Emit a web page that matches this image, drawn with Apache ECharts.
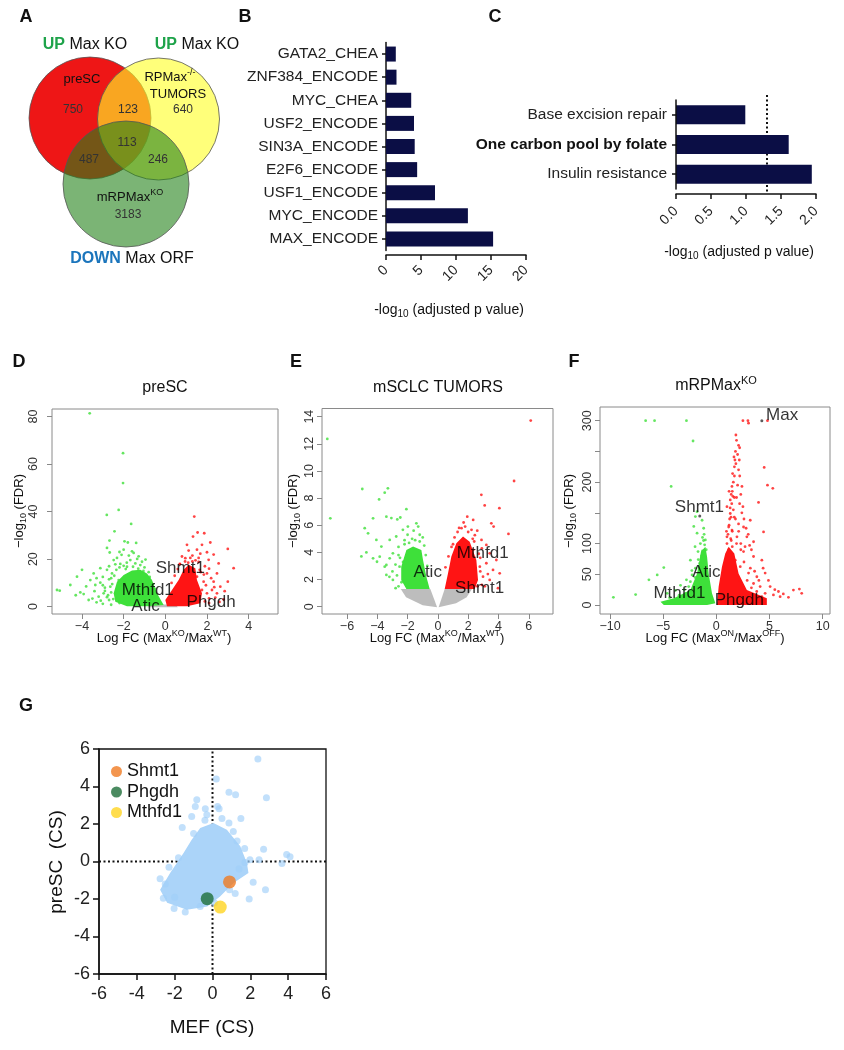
<!DOCTYPE html>
<html><head><meta charset="utf-8">
<script src="https://cdn.jsdelivr.net/npm/echarts@6/dist/echarts.min.js"></script>
<style>html,body{margin:0;padding:0;background:#fff}#c{width:844px;height:1050px}</style>
</head><body><div id="c"></div>
<script>
// ================= DATA =================
// Panel A – Venn diagram counts
const vennRegions = ['preSC only', 'tumors only', 'mRPMaxKO only', 'preSC∩tumors', 'preSC∩mRPMaxKO', 'tumors∩mRPMaxKO', 'all three'];
const vennCounts = [750, 640, 3183, 123, 487, 246, 113];

// Panel B – enrichment (ChEA / ENCODE)
const bCategories = ['GATA2_CHEA', 'ZNF384_ENCODE', 'MYC_CHEA', 'USF2_ENCODE', 'SIN3A_ENCODE', 'E2F6_ENCODE', 'USF1_ENCODE', 'MYC_ENCODE', 'MAX_ENCODE'];
const bValues = [1.4, 1.5, 3.6, 4.0, 4.1, 4.45, 7.0, 11.7, 15.3];
const bTicks = [0, 5, 10, 15, 20];

// Panel C – KEGG pathways
const cCategories = ['Base excision repair', 'One carbon pool by folate', 'Insulin resistance'];
const cValues = [0.99, 1.61, 1.94];
const cThreshold = [1.30];

// Panel D – preSC volcano
const dXTicks = [-4, -2, 0, 2, 4];
const dYTicks = [0, 20, 40, 60, 80];
const dGreenCore = [[-0.08,0.7],[-0.4,5.6],[-0.64,11.2],[-0.88,14],[-1.2,15.5],[-1.6,15.2],[-2.0,13.3],[-2.32,10.5],[-2.48,5.6],[-2.4,2.1],[-1.84,0.2],[-0.88,0.2]];
const dRedCore = [[0.08,0.2],[0.0,2.8],[0.32,7],[0.64,11.2],[0.88,15.5],[1.12,17.6],[1.44,16.2],[1.52,11.2],[1.76,5.6],[1.68,1.4],[1.04,0.2]];
const dGrayCore = [[-0.9,-0.3],[0.6,-0.3],[0.5,0.9],[-0.6,0.9]];
const dGreenPts = [[-3.63,81.4],[-2.03,64.6],[-2.03,52],[-2.24,40.7],[-2.81,38.6],[-1.64,34.8],[-2.44,31.7],[-2.68,27.8],[-1.96,27.5],[-1.8,27],[-1.4,26.8],[-2.8,24.7],[-2.0,24],[-1.6,23.3],[-1.52,22.6],[-2.67,22.8],[-1.28,21.2],[-2.32,20.5],[-4.0,15.5],[-4.24,12.6],[-4.56,9.1],[-5.2,7.0],[-5.07,6.7],[-4.08,6.0],[-3.44,14.0],[-3.6,11.2],[-3.36,9.1],[-3.12,10.1],[-2.96,5.6],[-3.2,4.2],[-2.8,4.0],[-2.56,14.0],[-2.48,19.6],[-2.16,18],[-3.12,16.2],[-2.8,15.5],[-2.64,8.4],[-2.4,5.6],[-2.24,11.2],[-1.84,16.8],[-1.68,19.6],[-1.44,18.2],[-1.2,17.5],[-1.12,18.9],[-3.68,2.8],[-3.92,5.3],[-2.6,12],[-2.9,8],[-3.0,12.5],[-2.7,17],[-1.9,15.8],[-1.0,16.5],[-0.8,14.5],[-2.5,3.2],[-3.4,6.5],[-3.8,8.5],[-4.3,4.8],[-3.1,2.5],[-2.2,1.5],
  [-3.0,1.2],[-2.7,2.8],[-2.9,6.6],[-2.6,6.0],[-2.55,9.5],[-2.7,11.5],[-2.45,13],[-2.35,15.5],[-2.2,16.5],[-2.0,17.2],[-1.85,18.5],[-1.55,16.8],[-1.3,16],[-1.05,15],[-0.75,12.5],[-0.6,9.5],[-0.5,7.5],[-0.45,4],[-2.6,0.8],[-2.75,4.8],[-3.3,1.8],[-3.5,3.4],[-1.75,21.5],[-2.1,21.8],[-1.35,20.1],[-0.95,19.8],[-2.4,17.8],[-3.3,12],[-3.0,9],[-2.2,23]];
const dRedPts = [[1.39,37.9],[1.55,31.2],[1.87,30.9],[1.33,29.5],[2.16,27],[1.04,26],[1.76,26],[3.0,24.3],[1.52,24],[1.12,23.6],[2.0,22.9],[1.68,22.3],[2.32,21.9],[0.8,21.1],[0.96,20.4],[3.28,16.2],[2.08,19.7],[2.56,18.2],[2.0,14.0],[2.48,14.0],[2.32,10.5],[3.0,10.5],[1.76,7],[2.0,5.6],[2.48,5.6],[2.24,7],[2.64,8.4],[1.52,12.6],[1.84,10.5],[1.3,19],[0.7,18],[1.7,14.5],[2.1,3.5],[1.9,2.2],[2.8,3.0],[1.6,18.8],[1.2,20.5],
  [0.3,10],[0.45,13],[0.6,15.8],[0.7,17.8],[0.95,19],[1.3,21.5],[1.6,20.5],[1.9,17],[2.1,16],[1.85,13.5],[2.2,12],[1.95,9],[2.35,8.2],[2.1,1.5],[2.6,2],[2.4,3.8],[1.65,15.5],[1.45,19.5],[1.1,18.5],[2.85,6.5]];
const dLabels = [['Shmt1',0.72,16.3],['Mthfd1',-0.84,6.7],['Atic',-0.95,0.2],['Phgdh',2.2,1.9]];

// Panel E – mSCLC tumors volcano
const eXTicks = [-6, -4, -2, 0, 2, 4, 6];
const eYTicks = [0, 2, 4, 6, 8, 10, 12, 14];
const eGrayLeft = [[-0.05,-0.05],[-1.0,0.1],[-2.1,0.7],[-2.45,1.3],[-0.5,1.3]];
const eGrayRight = [[0.05,-0.05],[1.2,0.25],[1.9,0.7],[2.25,1.3],[0.45,1.3]];
const eGreenCore = [[-0.54,1.3],[-2.08,1.3],[-2.42,1.97],[-2.42,2.95],[-2.08,4.18],[-1.64,4.43],[-1.09,4.18],[-0.98,3.44],[-0.76,2.21]];
const eRedCore = [[0.45,1.3],[0.67,2.46],[0.89,3.69],[1.22,4.67],[1.66,5.17],[2.1,4.79],[2.54,3.44],[2.65,1.97],[2.43,1.3]];
const eGreenPts = [[-7.3,12.36],[-7.1,6.51],[-4.99,8.67],[-3.3,8.72],[-3.51,8.4],[-3.88,7.9],[-2.08,7.18],[-4.28,6.51],[-3.4,6.63],[-3.07,6.53],[-2.68,6.43],[-2.48,6.57],[-1.42,6.14],[-1.3,5.9],[-4.83,5.78],[-4.61,5.4],[-5.05,3.7],[-4.72,4.0],[-4.28,3.56],[-4.02,3.31],[-3.84,3.68],[-3.51,2.95],[-3.18,3.56],[-3.4,2.34],[-2.97,1.97],[-2.79,1.36],[-2.53,2.95],[-3.73,4.43],[-3.18,4.92],[-2.75,5.17],[-2.31,5.66],[-1.98,5.9],[-2.97,3.93],[-3.4,3.07],[-4.06,4.92],[-2.6,4.4],[-2.2,4.9],[-1.7,5.0],[-2.7,2.3],[-2.5,3.6],[-1.2,4.8],
  [-2.6,1.5],[-2.4,1.8],[-2.3,3.3],[-2.6,3.8],[-2.2,4.6],[-1.9,4.7],[-1.5,4.9],[-1.2,5.3],[-0.9,4.5],[-0.8,3.8],[-0.7,3.0],[-3.0,2.6],[-3.2,2.2],[-2.8,3.1],[-1.6,5.6],[-2.0,5.3],[-1.0,5.1]];
const eRedPts = [[6.13,13.71],[5.03,9.26],[2.87,8.24],[3.09,7.46],[4.06,7.26],[3.53,6.14],[3.68,5.9],[4.66,5.36],[1.94,6.63],[2.33,6.39],[1.56,5.78],[2.22,5.66],[2.44,5.27],[2.88,4.92],[3.2,4.55],[3.42,3.93],[3.86,3.44],[3.64,2.71],[4.08,2.46],[3.42,1.97],[2.98,2.21],[3.97,1.36],[2.77,2.95],[2.33,4.18],[2.8,3.6],[3.1,1.5],[2.9,4.3],[1.3,5.5],[1.0,4.6],[2.6,5.6],
  [0.5,2.9],[0.7,3.7],[0.9,4.4],[1.1,5.1],[1.4,5.8],[1.8,5.9],[2.0,5.5],[2.4,4.8],[2.7,3.9],[2.8,2.6],[2.9,1.6],[3.2,3.2],[1.7,6.2],[2.3,5.0],[3.3,2.4],[2.6,1.5]];
const eLabels = [['Mthfd1',2.96,3.96],['Atic',-0.67,2.56],['Shmt1',2.76,1.38]];

// Panel F – mRPMaxKO volcano
const fXTicks = [-10, -5, 0, 5, 10];
const fYTicks = [0, 50, 100, 150, 200, 250, 300];
const fYLabels = [0, 50, 100, 200, 300];
const fGreenCore = [[-0.09,2.7],[-0.41,19],[-0.72,51.5],[-0.87,78.7],[-1.03,95],[-1.44,87],[-1.81,51.5],[-2.44,24.4],[-4.0,11],[-5.25,5.4],[-4.94,0],[-0.87,0]];
const fRedCore = [[0.06,0],[0.22,30],[0.53,62.5],[0.84,84],[1.16,95],[1.69,84],[2.09,51.5],[2.87,24.4],[4.75,11],[4.75,0]];
const fGreenPts = [[-6.65,300],[-5.81,300],[-2.81,300],[-2.19,267],[-4.25,193],[-1.97,144],[-2.12,128],[-1.81,117],[-1.34,138],[-1.19,125],[-1.03,106],[-2.44,73],[-1.97,60],[-2.28,49],[-4.94,61],[-5.56,49],[-6.34,41],[-7.59,17],[-9.68,12.5],[-3.84,24],[-3.37,32],[-2.81,41],[-1.72,87],[-1.56,68],[-2.44,38],[-2.9,19],[-4.62,19],[-1.81,152],[-1.3,110],[-1.5,100],[-2.0,95],
  [-1.1,98],[-1.2,105],[-1.3,88],[-1.4,80],[-1.25,70],[-1.6,60],[-2.0,45],[-1.9,30],[-2.6,30],[-3.0,25],[-3.5,16],[-4.4,12],[-1.15,115],[-0.95,90],[-1.7,74],[-2.3,56]];
const fRedPts = [[2.5,300],[2.97,300],[3.03,296],[4.81,300],[1.84,276.7],[2.09,260],[2.19,256],[1.66,241],[1.75,236],[1.84,230],[2.16,236],[2.09,220],[1.53,214],[4.5,224],[4.81,195],[5.31,190],[3.97,167],[1.47,193],[2.41,193],[1.56,177],[1.69,175],[2.19,165],[1.31,149],[1.69,143],[2.09,132],[2.56,127],[3.19,138],[1.47,122],[1.94,111],[2.87,111],[3.5,103],[4.44,119],[3.13,97],[2.56,87],[3.5,79],[4.28,73],[4.59,52],[3.81,46],[3.03,52],[3.5,35],[4.12,30],[5.06,30],[5.84,22],[5.37,16.5],[7.25,24.4],[7.81,26],[8.03,19],[6.78,12.5],[6.0,13.6],[4.28,13.6],[4.59,19],[3.03,19],[2.25,62.5],[1.78,73],[1.0,111],[1.16,127],[1.38,143],[1.0,160],[1.31,171],[1.9,100],[2.3,90],[1.4,105],[2.6,70],[2.2,40],[1.5,120],[2.4,150],[1.2,185],
  [1.0,100],[1.1,115],[1.2,130],[1.3,158],[1.45,165],[1.5,185],[1.6,200],[1.7,210],[1.8,250],[1.9,268],[2.0,245],[2.2,210],[2.3,180],[2.5,160],[2.6,140],[2.8,125],[3.0,115],[3.3,90],[2.1,120],[1.8,140],[1.6,155],[1.4,180],[1.25,140],[1.9,175],[2.0,195],[1.7,225],[2.3,100],[2.7,95],[3.2,60],[3.6,55],[4.0,40],[2.9,40],[3.3,28],[3.8,22],[5.5,25],[6.3,18],[4.9,40],[4.4,60],[1.15,90],[1.5,95],[1.35,108],[0.95,120]];
const fGenePts = [[4.28,300],[-1.56,145]];
const fLabels = [['Max',6.19,309],['Shmt1',-1.59,159.5],['Atic',-0.94,53.7],['Mthfd1',-3.47,19.5],['Phgdh',2.16,8.1]];

// Panel G – CRISPR scores
const gRefX = [0];
const gRefY = [0];
const gCore = [[-0.65,1.79],[0.05,2.05],[0.76,1.7],[1.47,0.81],[1.82,-0.08],[1.9,-0.61],[1.11,-1.15],[0.4,-1.86],[-0.28,-2.4],[-1.35,-2.57],[-2.4,-2.2],[-2.77,-1.5],[-2.24,-0.61],[-1.53,0.45],[-1.1,1.16]];
const gCloudPts = [[2.4,5.47],[0.2,4.4],[0.87,3.7],[1.22,3.56],[2.85,3.4],[-0.83,3.3],[-0.91,2.94],[-0.38,2.81],[0.27,2.94],[0.35,2.81],[-1.1,2.4],[-0.3,2.5],[1.5,2.3],[-1.6,1.82],[0.87,2.05],[2.7,0.66],[2.46,0.1],[1.98,0.1],[3.92,0.37],[4.1,0.26],[3.67,-0.1],[2.8,-1.5],[2.15,-1.1],[1.94,-2.0],[1.2,-1.7],[-2.77,-0.92],[-2.6,-1.96],[-2.03,-2.5],[-1.44,-2.69],[-0.65,-2.4],[1.72,-0.05],[1.4,-0.4],[-0.4,2.2],[0.5,2.3],[1.1,1.6],[1.7,0.7],[-1.8,0.2],[-2.3,-0.3],[-2.0,-1.9],[0.9,-1.5],[0.1,-2.2],[-1.0,1.5],[1.3,1.1],[-2.5,-1.2]];
const gShmt1 = [[0.9,-1.09]];
const gPhgdh = [[-0.28,-1.98]];
const gMthfd1 = [[0.41,-2.43]];
const gTicks = [-6, -4, -2, 0, 2, 4, 6];

// ================= CHART =================
const FONT = "'Liberation Sans', Arial, Helvetica, sans-serif";
const GREEN = '#3ee03a', RED = '#ff1414', GRAY = '#bdbdbd';
const chart = echarts.init(document.getElementById('c'), null, {renderer: 'canvas'});
const rfmt = v => (v < 0 ? '\u2212' + (-v) : String(v));

function polySeries(xi, pts, color, z, zl) {
  return { type: 'custom', xAxisIndex: xi, yAxisIndex: xi, z: z, zlevel: zl || 0, silent: true, clip: true,
    data: [[pts[0][0], pts[0][1]]],
    renderItem: (params, api) => ({ type: 'polygon', shape: { points: pts.map(p => api.coord(p)) }, style: { fill: color } }) };
}
function ptSeries(xi, pts, color, size, z, zl) {
  return { type: 'scatter', xAxisIndex: xi, yAxisIndex: xi, z: z, zlevel: zl || 0, silent: true, symbol: 'circle', symbolSize: size,
    data: pts, itemStyle: { color: color } };
}
function labelSeries(xi, labels) {
  return { type: 'scatter', xAxisIndex: xi, yAxisIndex: xi, z: 8, silent: true, symbolSize: 1,
    itemStyle: { color: 'rgba(0,0,0,0)' },
    data: labels.map(l => ({ name: l[0], value: [l[1], l[2]] })),
    label: { show: true, position: 'inside', formatter: p => p.name, fontSize: 17, color: '#000', fontFamily: FONT } };
}
function rX(gi, min, max, ticks) {
  return { gridIndex: gi, type: 'value', min: min, max: max,
    axisLine: { show: false, onZero: false },
    axisTick: { show: true, inside: false, length: 5, customValues: ticks, lineStyle: { color: '#888' } },
    axisLabel: { customValues: ticks, margin: 6, fontSize: 12.5, color: '#333', fontFamily: FONT, formatter: rfmt },
    splitLine: { show: false } };
}
function rY(gi, min, max, ticks, labels, margin) {
  return { gridIndex: gi, type: 'value', min: min, max: max,
    axisLine: { show: false, onZero: false },
    axisTick: { show: true, inside: false, length: 5, customValues: ticks, lineStyle: { color: '#888' } },
    axisLabel: { customValues: labels, rotate: 90, margin: margin, fontSize: 12.5, color: '#333', fontFamily: FONT, formatter: rfmt },
    splitLine: { show: false } };
}
const gridBase = { containLabel: false, outerBoundsMode: 'none' };
const rGrid = (l, t, w, h) => Object.assign({ left: l, top: t, width: w, height: h, show: true, borderColor: '#8a8a8a', borderWidth: 1, backgroundColor: 'transparent' }, gridBase);

function T(x, y, rich, text, extra) {
  return Object.assign({ type: 'text', x: x, y: y, z: 20, silent: true,
    style: { text: text, rich: rich, fontFamily: FONT, fontSize: 13, fill: '#111', align: 'center', verticalAlign: 'middle' } }, extra || {});
}
const richSup = (fs) => ({
  t: { fontSize: fs, fontFamily: FONT, fill: '#111', lineHeight: fs + 5 },
  s: { fontSize: Math.round(fs * 0.68), fontFamily: FONT, fill: '#111', verticalAlign: 'top', lineHeight: Math.round(fs * 0.68) + 1 },
  b: { fontSize: Math.round(fs * 0.7), fontFamily: FONT, fill: '#111', verticalAlign: 'bottom', lineHeight: Math.round(fs * 0.7) + 1 }
});

const graphics = [];
[['A',26,17],['B',245,17],['C',495,17],['D',19,362],['E',296,362],['F',574,362],['G',26,706]].forEach(p => {
  graphics.push({ type: 'text', x: p[1], y: p[2], z: 20, silent: true, style: { text: p[0], fontFamily: FONT, fontSize: 18, fontWeight: 'bold', fill: '#111', align: 'center', verticalAlign: 'middle' } });
});
// Venn circles
graphics.push({ type: 'circle', z: 1, silent: true, shape: { cx: 90, cy: 118, r: 61 }, style: { fill: 'rgb(238,22,22)', stroke: '#555', lineWidth: 0.8 } });
graphics.push({ type: 'circle', z: 2, silent: true, shape: { cx: 158.5, cy: 119, r: 61 }, style: { fill: 'rgba(255,255,40,0.62)', stroke: '#555', lineWidth: 0.8 } });
graphics.push({ type: 'circle', z: 3, silent: true, shape: { cx: 126, cy: 184, r: 63 }, style: { fill: 'rgba(35,130,25,0.6)', stroke: '#555', lineWidth: 0.8 } });
const hdrRich = {
  g: { fontSize: 16, fontFamily: FONT, fill: '#1ea34a', fontWeight: 'bold' },
  u: { fontSize: 16, fontFamily: FONT, fill: '#1b75bc', fontWeight: 'bold' },
  k: { fontSize: 16, fontFamily: FONT, fill: '#111' } };
graphics.push(T(85, 45, hdrRich, '{g|UP}{k| Max KO}'));
graphics.push(T(197, 45, hdrRich, '{g|UP}{k| Max KO}'));
graphics.push(T(132, 259, hdrRich, '{u|DOWN}{k| Max ORF}'));
graphics.push(T(82, 79, richSup(13), '{t|preSC}'));
graphics.push(T(170, 77, richSup(13), '{t|RPMax}{s|-/-}'));
graphics.push(T(178, 94, richSup(13), '{t|TUMORS}'));
graphics.push(T(130, 197, richSup(13), '{t|mRPMax}{s|KO}'));
const vennPos = [[73,110],[183,110],[128,215],[128,110],[89,160],[158,160],[127,143]];
vennCounts.forEach((c, i) => graphics.push({ type: 'text', x: vennPos[i][0], y: vennPos[i][1], z: 20, silent: true,
  style: { text: String(c), fontFamily: FONT, fontSize: 12, fill: '#333', align: 'center', verticalAlign: 'middle' } }));
graphics.push(T(449, 310, richSup(14), '{t|-log}{b|10}{t| (adjusted p value)}'));
graphics.push(T(739, 252, richSup(14), '{t|-log}{b|10}{t| (adjusted p value)}'));
graphics.push(T(165, 388, richSup(16), '{t|preSC}'));
graphics.push(T(438, 388, richSup(16), '{t|mSCLC TUMORS}'));
graphics.push(T(716, 386, richSup(16), '{t|mRPMax}{s|KO}'));
graphics.push(T(164, 638, richSup(13), '{t|Log FC (Max}{s|KO}{t|/Max}{s|WT}{t|)}'));
graphics.push(T(437, 638, richSup(13), '{t|Log FC (Max}{s|KO}{t|/Max}{s|WT}{t|)}'));
graphics.push(T(715, 638, richSup(13), '{t|Log FC (Max}{s|ON}{t|/Max}{s|OFF}{t|)}'));
[[19,511],[293,511],[569,511]].forEach(p => graphics.push(T(p[0], p[1], richSup(13), '{t|\u2212log}{b|10}{t| (FDR)}', { rotation: Math.PI / 2 })));
graphics.push({ type: 'text', x: 212, y: 1028, z: 20, silent: true, style: { text: 'MEF (CS)', fontFamily: FONT, fontSize: 19, fill: '#111', align: 'center', verticalAlign: 'middle' } });
graphics.push({ type: 'text', x: 57, y: 862, rotation: Math.PI / 2, z: 20, silent: true, style: { text: 'preSC  (CS)', fontFamily: FONT, fontSize: 19, fill: '#111', align: 'center', verticalAlign: 'middle' } });

const NAVY = '#0b0e45';
const blackAxis = { show: true, onZero: false, lineStyle: { color: '#111', width: 1.5 } };
const option = {
  animation: false,
  backgroundColor: '#fff',
  textStyle: { fontFamily: FONT },
  graphic: { elements: graphics },
  legend: { data: ['Shmt1', 'Phgdh', 'Mthfd1'], orient: 'vertical', left: 106, top: 757, itemWidth: 11, itemHeight: 11, itemGap: 1.5,
    icon: 'circle', selectedMode: false, zlevel: 1, textStyle: { fontSize: 18, color: '#111', fontFamily: FONT, lineHeight: 19 } },
  grid: [
    Object.assign({ left: 386, top: 42.5, width: 140, height: 208 }, gridBase),
    Object.assign({ left: 676, top: 100, width: 140, height: 89 }, gridBase),
    rGrid(52, 409, 226, 205),
    rGrid(322, 408.5, 231, 205.5),
    rGrid(600, 407, 230, 207),
    Object.assign({ left: 99, top: 749, width: 227, height: 225, show: true, borderColor: '#111', borderWidth: 1.3, backgroundColor: 'transparent' }, gridBase)
  ],
  xAxis: [
    { gridIndex: 0, type: 'value', min: 0, max: 20, interval: 5, offset: 4.5, axisLine: blackAxis,
      axisTick: { show: true, length: 5, lineStyle: { color: '#111', width: 1.5 } },
      axisLabel: { rotate: 45, margin: 13, fontSize: 14, color: '#222', fontFamily: FONT }, splitLine: { show: false } },
    { gridIndex: 1, type: 'value', min: 0, max: 2, interval: 0.5, offset: 5, zlevel: 1, axisLine: blackAxis,
      axisTick: { show: true, length: 5, lineStyle: { color: '#111', width: 1.5 } },
      axisLabel: { rotate: 45, margin: 15, fontSize: 14, color: '#222', fontFamily: FONT, formatter: v => v.toFixed(1) }, splitLine: { show: false } },
    rX(2, -5.44, 5.41, dXTicks),
    rX(3, -7.65, 7.6, eXTicks),
    rX(4, -10.94, 10.69, fXTicks),
    { gridIndex: 5, type: 'value', min: -6, max: 6, interval: 2, axisLine: blackAxis,
      axisTick: { show: true, length: 6, lineStyle: { color: '#111', width: 1.5 } },
      axisLabel: { margin: 11, fontSize: 18, color: '#222', fontFamily: FONT }, splitLine: { show: false } }
  ],
  yAxis: [
    { gridIndex: 0, type: 'category', data: bCategories, inverse: true, axisLine: blackAxis,
      axisTick: { show: true, alignWithLabel: true, length: 4, lineStyle: { color: '#111', width: 1.5 } },
      axisLabel: { margin: 8, fontSize: 15.5, color: '#222', fontFamily: FONT } },
    { gridIndex: 1, type: 'category', data: cCategories, inverse: true, zlevel: 1, z: 10, axisLine: blackAxis,
      axisTick: { show: true, alignWithLabel: true, length: 4, lineStyle: { color: '#111', width: 1.5 } },
      axisLabel: { margin: 9, fontSize: 15.5, color: '#222', fontFamily: FONT,
        formatter: v => v === 'One carbon pool by folate' ? '{b|' + v + '}' : v,
        rich: { b: { fontWeight: 'bold', fontSize: 15.5, color: '#111', fontFamily: FONT } } } },
    rY(2, -3.1, 83.2, dYTicks, dYTicks, 12),
    rY(3, -0.54, 14.6, eYTicks, eYTicks, 6),
    rY(4, -14.6, 322.3, fYTicks, fYLabels, 6),
    { gridIndex: 5, type: 'value', min: -6, max: 6, interval: 2, axisLine: blackAxis,
      axisTick: { show: true, length: 6, lineStyle: { color: '#111', width: 1.5 } },
      axisLabel: { margin: 9, fontSize: 18, color: '#222', fontFamily: FONT }, splitLine: { show: false } }
  ],
  series: [
    // B
    { type: 'bar', xAxisIndex: 0, yAxisIndex: 0, data: bValues, barWidth: 15, silent: true, itemStyle: { color: NAVY } },
    // C : threshold line (below bars)
    { type: 'custom', xAxisIndex: 1, yAxisIndex: 1, z: 1, zlevel: 0, silent: true, clip: false,
      data: cThreshold.map(v => [v, 0]),
      renderItem: (params, api) => {
        const x = api.coord([api.value(0), 0])[0];
        const band = api.size([0, 1])[1];
        const y0 = api.coord([0, 0])[1], y1 = api.coord([0, cCategories.length - 1])[1];
        return { type: 'line', shape: { x1: x, y1: Math.min(y0, y1) - band / 2 - 5, x2: x, y2: Math.max(y0, y1) + band / 2 + 5 },
          style: { stroke: '#111', lineWidth: 2, lineDash: [2, 2.5] } };
      } },
    { type: 'bar', xAxisIndex: 1, yAxisIndex: 1, z: 2, zlevel: 1, data: cValues, barWidth: 19, silent: true, itemStyle: { color: NAVY } },
    // D
    polySeries(2, dGrayCore, GRAY, 2),
    polySeries(2, dGreenCore, GREEN, 3),
    polySeries(2, dRedCore, RED, 3),
    ptSeries(2, dGreenPts, GREEN, 2.8, 4),
    ptSeries(2, dRedPts, RED, 2.8, 4),
    labelSeries(2, dLabels),
    // E
    polySeries(3, eGrayLeft, GRAY, 2),
    polySeries(3, eGrayRight, GRAY, 2),
    polySeries(3, eGreenCore, GREEN, 3),
    polySeries(3, eRedCore, RED, 3),
    ptSeries(3, eGreenPts, GREEN, 2.8, 4),
    ptSeries(3, eRedPts, RED, 2.8, 4),
    labelSeries(3, eLabels),
    // F
    polySeries(4, fGreenCore, GREEN, 3),
    polySeries(4, fRedCore, RED, 3),
    ptSeries(4, fGreenPts, GREEN, 2.8, 4),
    ptSeries(4, fRedPts, RED, 2.8, 4),
    ptSeries(4, fGenePts, '#333', 3, 5),
    labelSeries(4, fLabels),
    // G : reference dotted lines (below cloud)
    { type: 'custom', xAxisIndex: 5, yAxisIndex: 5, z: 1, zlevel: 0, silent: true, clip: false,
      data: [[gRefX[0], gRefY[0]]],
      renderItem: (params, api) => {
        const vx = api.value(0), vy = api.value(1);
        const a = api.coord([vx, -6]), b = api.coord([vx, 6]);
        const c = api.coord([-6, vy]), d = api.coord([6, vy]);
        const st = { stroke: '#111', lineWidth: 2, lineDash: [2, 2.5] };
        return { type: 'group', children: [
          { type: 'line', shape: { x1: a[0], y1: a[1], x2: b[0], y2: b[1] }, style: st },
          { type: 'line', shape: { x1: c[0], y1: c[1], x2: d[0], y2: d[1] }, style: st } ] };
      } },
    polySeries(5, gCore, '#abd4f9', 2, 1),
    ptSeries(5, gCloudPts, 'rgba(160,206,248,0.8)', 7, 3, 1),
    { name: 'Shmt1', type: 'scatter', xAxisIndex: 5, yAxisIndex: 5, z: 6, zlevel: 1, silent: true, symbol: 'circle', symbolSize: 13, data: gShmt1, itemStyle: { color: '#f07a22' } },
    { name: 'Phgdh', type: 'scatter', xAxisIndex: 5, yAxisIndex: 5, z: 6, zlevel: 1, silent: true, symbol: 'circle', symbolSize: 13, data: gPhgdh, itemStyle: { color: '#1e6e3a' } },
    { name: 'Mthfd1', type: 'scatter', xAxisIndex: 5, yAxisIndex: 5, z: 6, zlevel: 1, silent: true, symbol: 'circle', symbolSize: 13, data: gMthfd1, itemStyle: { color: '#ffd422' } }
  ]
};
chart.setOption(option);
</script>
</body></html>
